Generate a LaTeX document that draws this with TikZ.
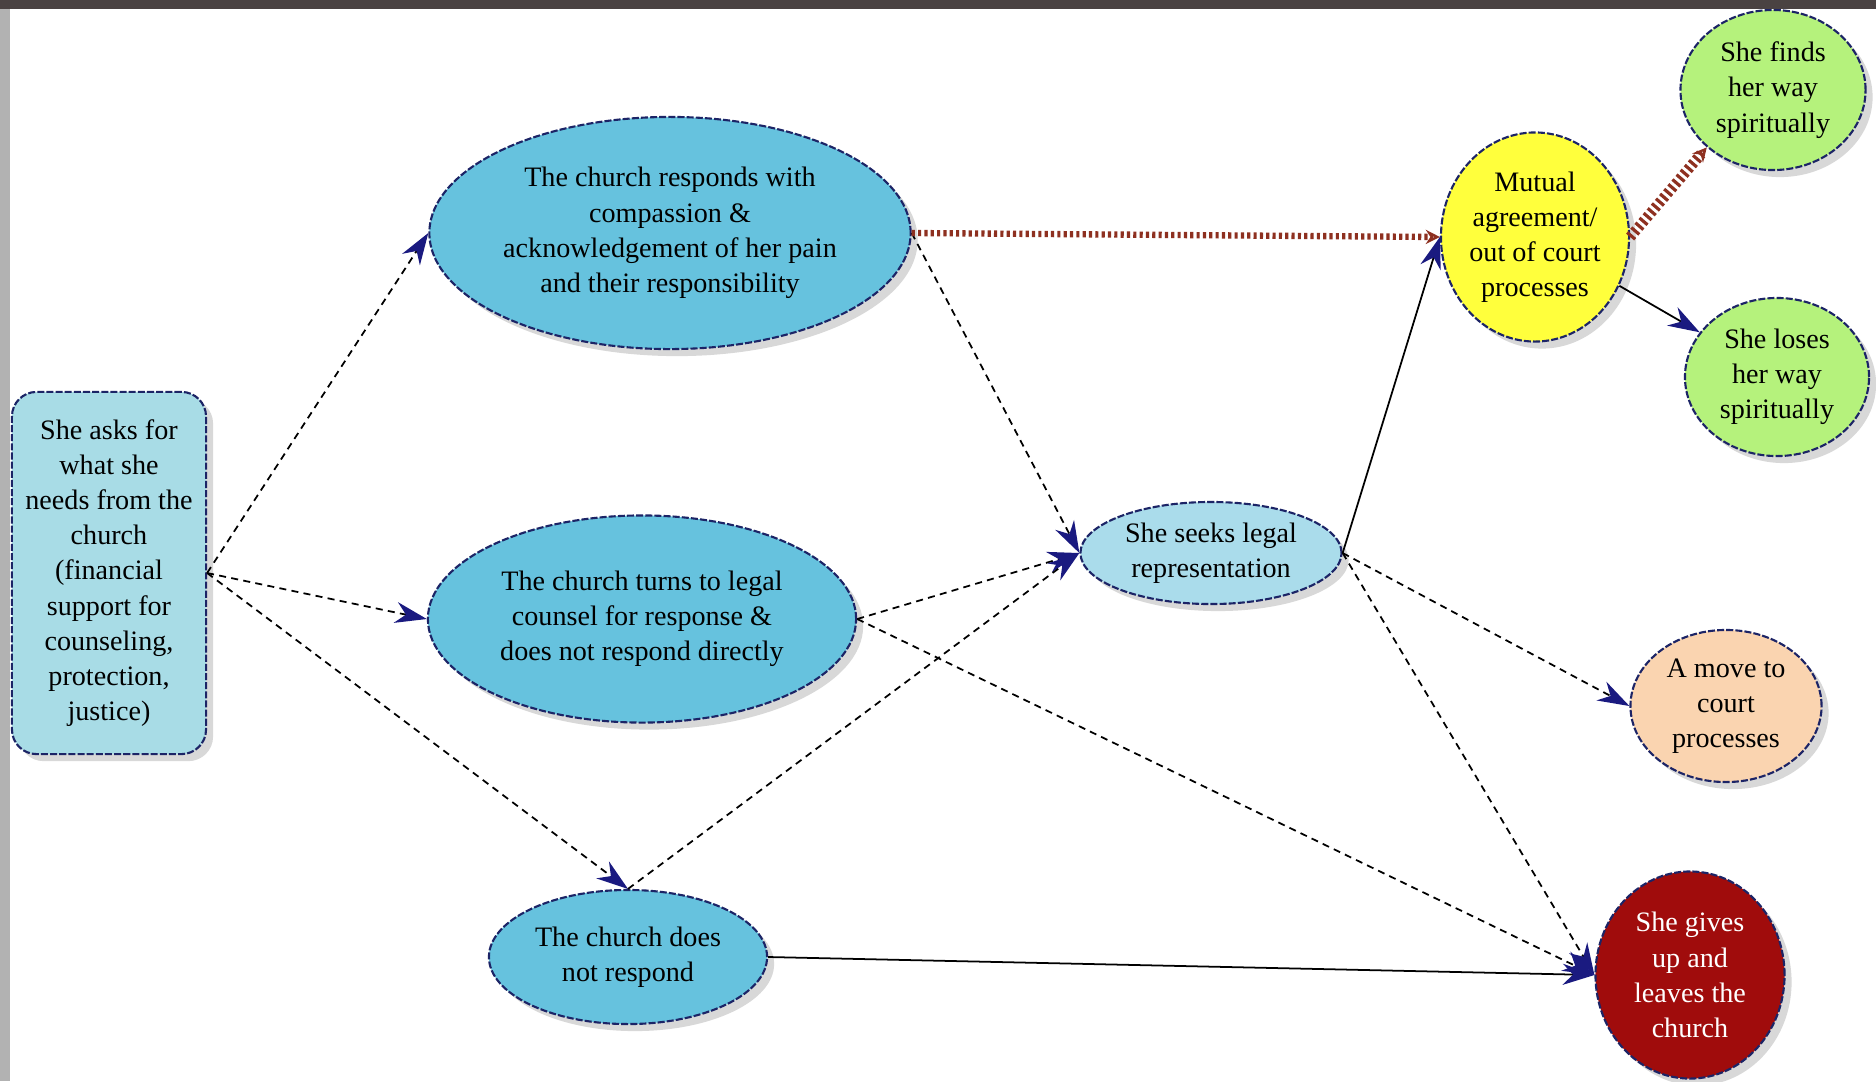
\documentclass[tikz,border=0pt]{standalone}
\usepackage{fontspec}
\setmainfont{Liberation Serif}
\usetikzlibrary{shapes.geometric,arrows.meta,shadows}
\definecolor{askfill}{HTML}{A8DCE6}
\definecolor{ellfill}{HTML}{66C2DE}
\definecolor{reprfill}{HTML}{AADCEB}
\definecolor{mutualfill}{HTML}{FFFF3C}
\definecolor{greenfill}{HTML}{B5F27C}
\definecolor{peachfill}{HTML}{FAD4B0}
\definecolor{redfill}{HTML}{A00C0C}
\definecolor{edgenavy}{HTML}{1C2466}
\definecolor{arrnavy}{HTML}{1A1A80}
\definecolor{hatchbrown}{HTML}{8E3020}
\definecolor{topband}{HTML}{4A4242}
\begin{document}
\begin{tikzpicture}[x=0.01cm,y=-0.01cm,
  bubble/.style={ellipse,draw=edgenavy,dash pattern=on 2pt off 0.6pt,line width=0.6pt,
    inner sep=0pt,align=center,font=\fontsize{8}{10}\selectfont,
    drop shadow={shadow xshift=2pt,shadow yshift=-2pt,fill=black!30}},
  askbox/.style={bubble,rectangle,rounded corners=7pt,fill=askfill},
  link/.style={draw=black,dash pattern=on 2pt off 1.5pt,line width=0.5pt,
    -{Stealth[length=9pt,width=6pt,color=arrnavy]}},
  solidlink/.style={link,solid},
  hatch/.style={draw=hatchbrown,line width=1.8pt,dash pattern=on 0.9pt off 0.9pt,
    -{Stealth[length=4pt,width=4pt,open]}}]
\useasboundingbox (0,0) rectangle (1876,1081);
\fill[white] (0,0) rectangle (1876,1081);
\fill[topband] (0,0) rectangle (1876,9);
\fill[gray!60] (0,9) rectangle (10,1081);
\node[askbox,minimum width=1.94cm,minimum height=3.62cm] (ask) at (109,573)
  {She asks for\\what she\\needs from the\\church\\(financial\\support for\\counseling,\\protection,\\justice)};
\node[bubble,fill=ellfill,minimum width=4.81cm,minimum height=2.32cm] (respond) at (670,233)
  {The church responds with\\compassion \&\\acknowledgement of her pain\\and their responsibility};
\node[bubble,fill=ellfill,minimum width=4.28cm,minimum height=2.07cm] (counsel) at (642,619)
  {The church turns to legal\\counsel for response \&\\does not respond directly};
\node[bubble,fill=ellfill,minimum width=2.78cm,minimum height=1.34cm] (silent) at (628,957)
  {The church does\\not respond};
\node[bubble,fill=reprfill,minimum width=2.61cm,minimum height=1.02cm] (legal) at (1211,553)
  {She seeks legal\\representation};
\node[bubble,fill=mutualfill,minimum width=1.88cm,minimum height=2.09cm] (mutual) at (1535,237)
  {Mutual\\agreement/\\out of court\\processes};
\node[bubble,fill=greenfill,minimum width=1.85cm,minimum height=1.6cm] (finds) at (1773,90)
  {She finds\\her way\\spiritually};
\node[bubble,fill=greenfill,minimum width=1.84cm,minimum height=1.58cm] (loses) at (1777,377)
  {She loses\\her way\\spiritually};
\node[bubble,fill=peachfill,minimum width=1.91cm,minimum height=1.52cm] (court) at (1726,706)
  {A move to\\court\\processes};
\node[bubble,fill=redfill,text=white,minimum width=1.89cm,minimum height=2.07cm] (leaves) at (1690,975)
  {She gives\\up and\\leaves the\\church};
\fill[topband] (0,0) rectangle (1876,9);
\draw[link] (ask.east) -- (respond.west);
\draw[link] (ask.east) -- (counsel.west);
\draw[link] (ask.east) -- (silent.north);
\draw[link] (respond.east) -- (legal.west);
\draw[hatch] (respond.east) -- (mutual.west);
\draw[link] (counsel.east) -- (legal.west);
\draw[link] (silent.north) -- (legal.west);
\draw[link] (counsel.east) -- (leaves.west);
\draw[solidlink] (silent.east) -- (leaves.west);
\draw[solidlink] (legal.east) -- (mutual.west);
\draw[link] (legal.east) -- (court.west);
\draw[link] (legal.east) -- (leaves.west);
\draw[solidlink] (mutual) -- (loses);
\draw[hatch,line width=3pt] (mutual.east) -- (finds.south west);
\end{tikzpicture}
\end{document}
